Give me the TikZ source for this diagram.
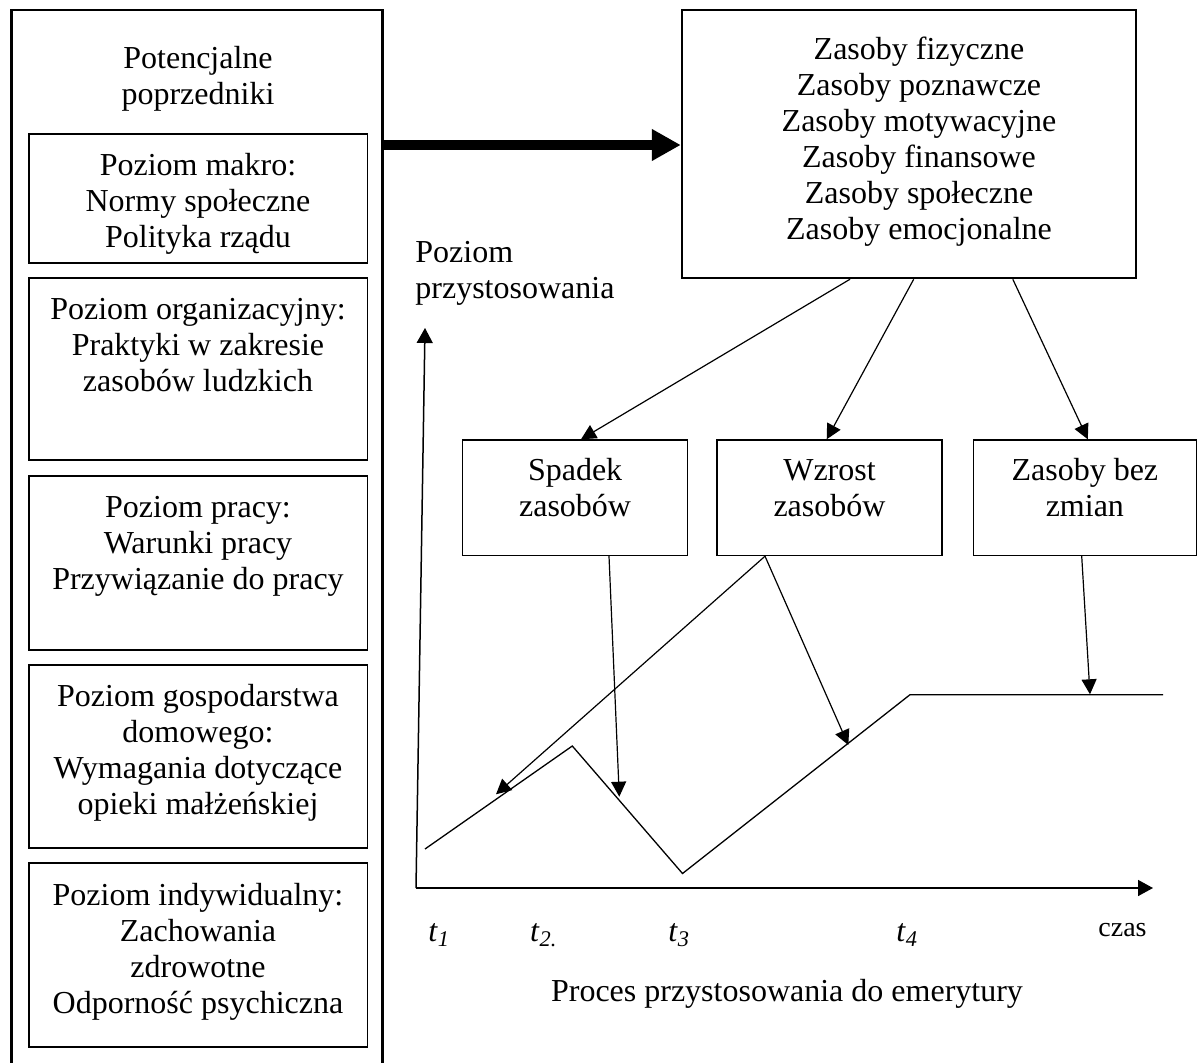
\documentclass[tikz,border=0pt]{standalone}
\usepackage{fontspec}
\setmainfont{Liberation Serif}
\usetikzlibrary{arrows.meta}
% invisible strut fixing the height of a first text line
\newcommand\lnstrut{\rule{0pt}{12pt}}
\begin{document}
\begin{tikzpicture}[x=0.5pt,y=-0.5pt,
  every node/.style={font=\fontsize{16}{18}\selectfont, inner sep=0pt},
  frame/.style={draw, line width=1.25pt},
  panel/.style={draw, line width=0.7pt},
  lbl/.style={align=center, anchor=north},
  conn/.style={line width=0.6pt, -{Triangle[length=7.5pt,width=7.5pt]}},
  axis/.style={line width=0.75pt, -{Triangle[length=7.5pt,width=8pt]}},
  curve/.style={line width=0.65pt},
]
\clip (0,0) rectangle (1198,1063);

% antecedents column
\node[frame, minimum width=185.5pt, minimum height=535pt] (prec) at (197.2,545) {};
\node[lbl] (precT) at (198,44) {\lnstrut Potencjalne\\poprzedniki};

\node[panel, minimum width=169.35pt, minimum height=64.5pt] (makro) at (198.35,198.5) {};
\node[lbl] (makroT) at (198,151) {\lnstrut Poziom makro:\\Normy społeczne\\Polityka rządu};

\node[panel, minimum width=169.35pt, minimum height=91pt] (org) at (198.35,369) {};
\node[lbl] (orgT) at (198,295) {\lnstrut Poziom organizacyjny:\\Praktyki w zakresie\\zasobów ludzkich};

\node[panel, minimum width=169.35pt, minimum height=87pt] (praca) at (198.35,563) {};
\node[lbl] (pracaT) at (198,493) {\lnstrut Poziom pracy:\\Warunki pracy\\Przywiązanie do pracy};

\node[panel, minimum width=169.35pt, minimum height=91.5pt] (dom) at (198.35,756.5) {};
\node[lbl] (domT) at (198,682) {\lnstrut Poziom gospodarstwa\\domowego:\\Wymagania dotyczące\\opieki małżeńskiej};

\node[panel, minimum width=169.35pt, minimum height=92pt] (indyw) at (198.35,955) {};
\node[lbl] (indywT) at (198,881) {\lnstrut Poziom indywidualny:\\Zachowania\\zdrowotne\\Odporność psychiczna};

% resources
\node[frame, minimum width=227pt, minimum height=134pt] (res) at (909,144) {};
\node[lbl] (resT) at (919,35.3) {\lnstrut Zasoby fizyczne\\Zasoby poznawcze\\Zasoby motywacyjne\\Zasoby finansowe\\Zasoby społeczne\\Zasoby emocjonalne};

\draw[line width=5pt, -{Triangle[length=14.5pt,width=15pt]}] (prec.east |- 0,145) -- (res.west |- 0,145);

% resource change boxes
\node[panel, minimum width=112.4pt, minimum height=57.75pt] (spadek) at (575.1,497.75) {};
\node[lbl] (spadekT) at (575.1,456) {\lnstrut Spadek\\zasobów};
\node[panel, minimum width=112.5pt, minimum height=57.75pt] (wzrost) at (829.5,497.75) {};
\node[lbl] (wzrostT) at (829.5,456) {\lnstrut Wzrost\\zasobów};
\node[panel, minimum width=111.65pt, minimum height=57.75pt] (bez) at (1084.85,497.75) {};
\node[lbl] (bezT) at (1084.85,456) {\lnstrut Zasoby bez\\zmian};

\draw[conn] (res.south -| 850,0) -- (spadek.north -| 581,0);
\draw[conn] (res.south -| 913.7,0) -- (wzrost.north -| 826.7,0);
\draw[conn] (res.south -| 1012.8,0) -- (bez.north -| 1087.8,0);

% axes
\coordinate (o) at (416,888);
\coordinate (ytop) at (425,328);
\coordinate (xend) at (1153,888);
\draw[axis] (o) -- (ytop);
\draw[axis] (o) -- (xend);
\node[align=left, anchor=north west] (ylab) at (415,237.7) {\lnstrut Poziom\\przystosowania};

% adjustment trajectory
\coordinate (c1) at (425,849);
\coordinate (c2) at (572.3,746);
\coordinate (c3) at (682.5,873.5);
\coordinate (c4) at (910,694.7);
\coordinate (c5) at (1163,694.7);
\draw[curve] (c1) -- (c2) -- (c3) -- (c4) -- (c5);

\coordinate (tipA) at (619.3,796.7);
\coordinate (tipB) at (496,794.3);
\coordinate (tipC) at (848.3,745);
\coordinate (tipD) at (1090,694.3);
\draw[conn] (spadek.south -| 609,0) -- (tipA);
\draw[conn] (wzrost.south -| 765,0) -- (tipB);
\draw[conn] (wzrost.south -| 765,0) -- (tipC);
\draw[conn] (bez.south -| 1081.7,0) -- (tipD);

% time labels
\node[anchor=base west] (t1) at (428,941.7) {\textit{t}\textsubscript{\textit{1}}};
\node[anchor=base west] (t2) at (529.8,941.7) {\textit{t}\textsubscript{\textit{2.}}};
\node[anchor=base west] (t3) at (668,941.7) {\textit{t}\textsubscript{\textit{3}}};
\node[anchor=base west] (t4) at (896,941.7) {\textit{t}\textsubscript{\textit{4}}};
\node[anchor=base west, font=\fontsize{14}{16}\selectfont] (czas) at (1098,936.7) {czas};
\node[anchor=base] (proc) at (787,1001) {Proces przystosowania do emerytury};
\end{tikzpicture}
\end{document}
